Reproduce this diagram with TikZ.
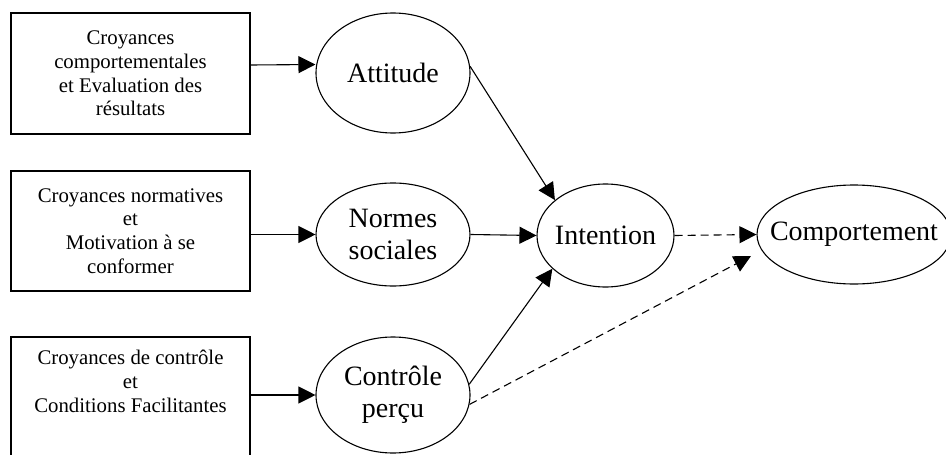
\documentclass[tikz,border=0pt]{standalone}
\usepackage{fontspec}
\setmainfont{Liberation Serif}
\usetikzlibrary{arrows.meta,shapes.geometric}
\tikzset{
  boxstyle/.style={draw, line width=1.1pt, rectangle, minimum width=239pt, inner sep=0pt, align=center,
    font=\fontsize{20.8}{23.7}\selectfont},
  ellstyle/.style={draw, line width=1.1pt, ellipse, inner sep=-20pt, align=center,
    font=\fontsize{28}{32}\selectfont},
  arr/.style={line width=1.1pt, -{Triangle[length=17pt,width=17pt]}},
  darr/.style={arr, dash pattern=on 8pt off 5pt},
}
\begin{document}
\begin{tikzpicture}[x=1pt,y=-1pt]
\useasboundingbox (0,0) rectangle (946,455);
% boxes
\node[boxstyle, minimum height=121pt] (box1) at (130.5,73.5)
  {Croyances\\comportementales\\et Evaluation des\\résultats};
\node[boxstyle, minimum height=120pt] (box2) at (130.5,231)
  {Croyances normatives\\et\\Motivation à se\\conformer};
\node[boxstyle, minimum height=133pt,
  label={[anchor=north, yshift=-13.5pt, align=center, inner sep=0pt,
          font=\fontsize{20.8}{23.7}\selectfont]north:{Croyances de contrôle\\et\\Conditions Facilitantes}}]
  (box3) at (130.5,403.5) {};
% ellipses
\node[ellstyle, minimum width=154pt, minimum height=120pt] (att) at (393,73) {Attitude};
\node[ellstyle, minimum width=154pt, minimum height=103pt] (nor) at (393,234.5) {Normes\\sociales};
\node[ellstyle, minimum width=154pt, minimum height=116pt] (ctl) at (393,395) {Contrôle\\perçu};
\node[ellstyle, minimum width=137pt, minimum height=103pt] (int) at (605.5,235.5) {Intention};
\node[ellstyle, minimum width=194pt, minimum height=99pt] (comp) at (854,234.5) {Comportement};
\coordinate (ctip) at (751,256);
% connectors
\draw[arr] ([yshift=8.5pt]box1.east) -- ([yshift=8.5pt]att.west);
\draw[arr] (box2.east |- nor.west) -- (nor.west);
\draw[arr] (box3.east |- ctl.west) -- (ctl.west);
\draw[arr] (att.5) -- (int.145);
\draw[arr] (nor.east) -- (int.west);
\draw[arr] (ctl.8) -- (int.212);
\draw[darr] (int.east) -- (comp.west);
\draw[darr] (ctl.-7) -- (ctip);
\end{tikzpicture}
\end{document}
